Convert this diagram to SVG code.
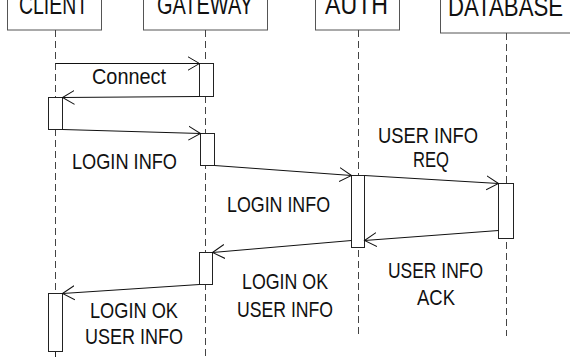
<svg xmlns="http://www.w3.org/2000/svg" width="570" height="362" viewBox="0 0 570 362">
<defs>
<style>
.hdr{fill:#fff;stroke:#555;stroke-width:1}
.life{stroke:#444;stroke-width:1;stroke-dasharray:7,4;fill:none}
.act{fill:#fff;stroke:#222;stroke-width:1}
.msg{stroke:#111;stroke-width:1;fill:none;marker-end:url(#arr)}
text{font-family:"Liberation Sans",Arial,sans-serif;font-size:22px;fill:#111}
.ht{font-size:28px}
</style>
<marker id="arr" markerUnits="userSpaceOnUse" viewBox="-12 -8 13 16" refX="0" refY="0" markerWidth="13" markerHeight="16" orient="auto">
<path d="M-12,-7 L0,0 L-12,7" fill="none" stroke="#111" stroke-width="1"/>
</marker>
</defs>
<rect width="570" height="362" fill="#fff"/>

<g id="client">
<rect class="hdr" x="7.5" y="-20.5" width="94" height="50.5"/>
<text class="ht" x="19" y="14" textLength="69" lengthAdjust="spacingAndGlyphs">CLIENT</text>
<line class="life" x1="55.5" y1="30" x2="55.5" y2="351"/>
<line x1="55.5" y1="351" x2="55.5" y2="357" stroke="#222"/>
<rect class="act" x="48.5" y="97.5" width="14" height="32"/>
<rect class="act" x="48.5" y="293.5" width="14" height="58"/>
</g>

<g id="gateway">
<rect class="hdr" x="143.5" y="-20.5" width="124" height="50.5"/>
<text class="ht" x="157" y="14" textLength="96" lengthAdjust="spacingAndGlyphs">GATEWAY</text>
<line class="life" x1="205.5" y1="30" x2="205.5" y2="357"/>
<rect class="act" x="199.5" y="63.5" width="14" height="33"/>
<rect class="act" x="200.5" y="133.5" width="14" height="32"/>
<rect class="act" x="199.5" y="252.5" width="13" height="32"/>
</g>

<g id="auth">
<rect class="hdr" x="315.5" y="-20.5" width="84" height="50.5"/>
<text class="ht" x="325" y="14" textLength="63" lengthAdjust="spacingAndGlyphs">AUTH</text>
<line class="life" x1="358.5" y1="30" x2="358.5" y2="336"/>
<rect class="act" x="351.5" y="175.5" width="13" height="72"/>
</g>

<g id="database">
<rect class="hdr" x="440.5" y="-20.5" width="140" height="53.5"/>
<text class="ht" x="448" y="16" textLength="115" lengthAdjust="spacingAndGlyphs">DATABASE</text>
<line class="life" x1="506.5" y1="33" x2="506.5" y2="336"/>
<rect class="act" x="498.5" y="183.5" width="15" height="55"/>
</g>

<g id="connectors">
<line class="msg" x1="55.5" y1="63.5" x2="199.5" y2="63.5"/>
<line class="msg" x1="199.5" y1="96.5" x2="62.5" y2="97.5"/>
<line class="msg" x1="62.5" y1="129.5" x2="200.5" y2="133.5"/>
<line class="msg" x1="214.5" y1="165.5" x2="351.5" y2="175.5"/>
<line class="msg" x1="364.5" y1="175.5" x2="498.5" y2="183.5"/>
<line class="msg" x1="498.5" y1="230.5" x2="364.5" y2="240.5"/>
<line class="msg" x1="351.5" y1="240.5" x2="212.5" y2="252.5"/>
<line class="msg" x1="199.5" y1="284.5" x2="62.5" y2="293.5"/>
</g>

<g id="labels">
<text x="92" y="84" textLength="74" lengthAdjust="spacingAndGlyphs">Connect</text>
<text x="72" y="169" textLength="105" lengthAdjust="spacingAndGlyphs">LOGIN INFO</text>
<text x="227" y="212" textLength="103" lengthAdjust="spacingAndGlyphs">LOGIN INFO</text>
<text x="378" y="143" textLength="100" lengthAdjust="spacingAndGlyphs">USER INFO</text>
<text x="413" y="167" textLength="36" lengthAdjust="spacingAndGlyphs">REQ</text>
<text x="388" y="278" textLength="95" lengthAdjust="spacingAndGlyphs">USER INFO</text>
<text x="417" y="305" textLength="38" lengthAdjust="spacingAndGlyphs">ACK</text>
<text x="242" y="289" textLength="86" lengthAdjust="spacingAndGlyphs">LOGIN OK</text>
<text x="237" y="317" textLength="96" lengthAdjust="spacingAndGlyphs">USER INFO</text>
<text x="90" y="318" textLength="88" lengthAdjust="spacingAndGlyphs">LOGIN OK</text>
<text x="85" y="344" textLength="98" lengthAdjust="spacingAndGlyphs">USER INFO</text>
</g>
</svg>
